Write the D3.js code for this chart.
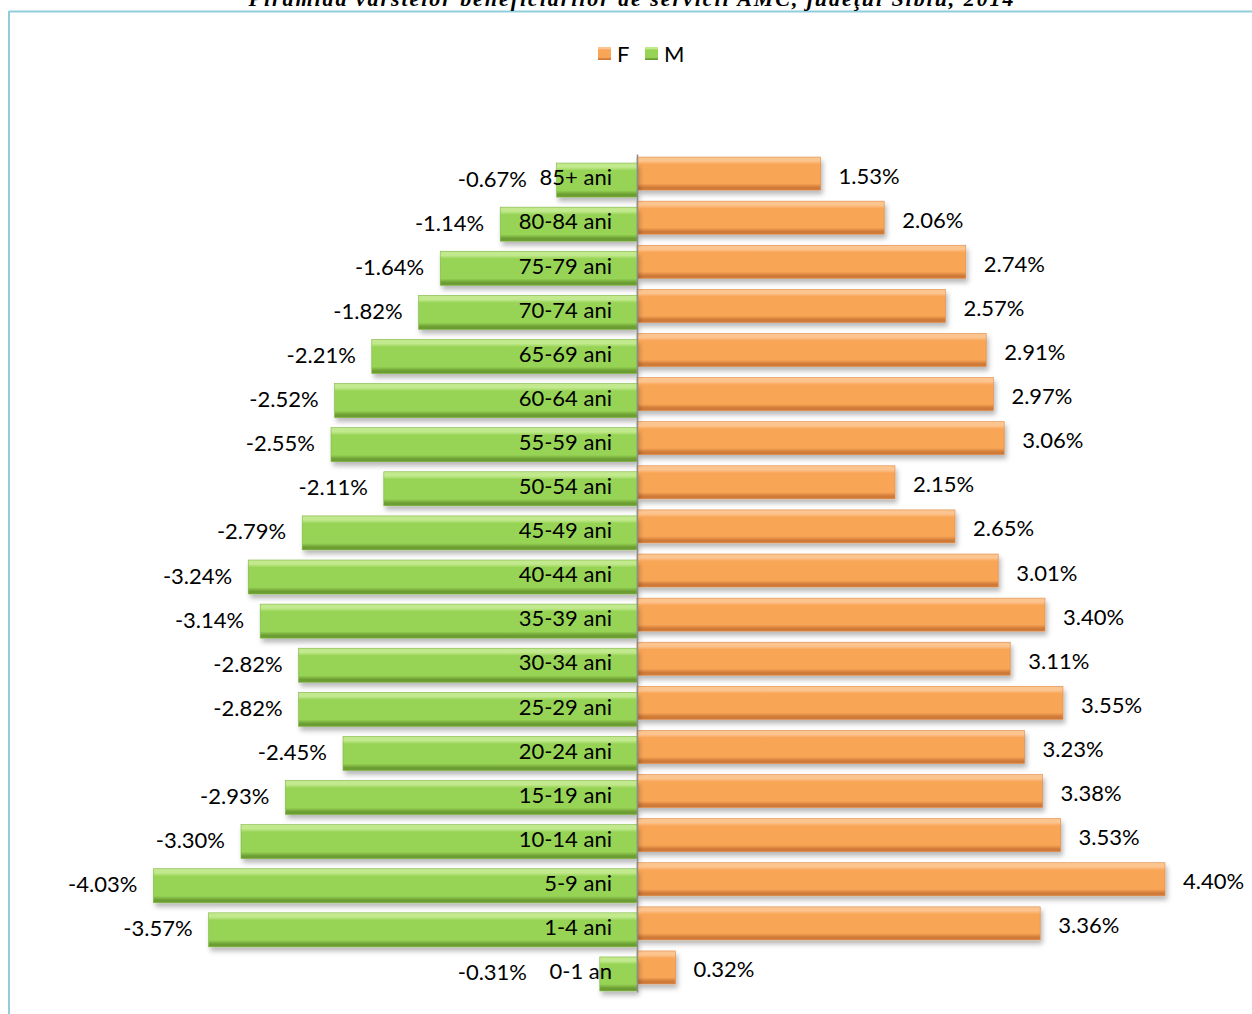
<!DOCTYPE html>
<html>
<head>
<meta charset="utf-8">
<script src="https://cdn.jsdelivr.net/npm/d3@7"></script>
<style>
  html, body { margin: 0; padding: 0; background: #fff; }
  svg { display: block; }
  text { font-family: Lato, "Open Sans", sans-serif; }
</style>
</head>
<body>
<svg id="chart" width="1252" height="1014"></svg>
<script>
const title = "Piramida vârstelor beneficiarilor de servicii AMC, judeţul Sibiu, 2014";
const categories = ["85+ ani","80-84 ani","75-79 ani","70-74 ani","65-69 ani","60-64 ani","55-59 ani","50-54 ani","45-49 ani","40-44 ani","35-39 ani","30-34 ani","25-29 ani","20-24 ani","15-19 ani","10-14 ani","5-9 ani","1-4 ani","0-1 an"];
const valuesM = [-0.67,-1.14,-1.64,-1.82,-2.21,-2.52,-2.55,-2.11,-2.79,-3.24,-3.14,-2.82,-2.82,-2.45,-2.93,-3.30,-4.03,-3.57,-0.31];
const valuesF = [1.53,2.06,2.74,2.57,2.91,2.97,3.06,2.15,2.65,3.01,3.40,3.11,3.55,3.23,3.38,3.53,4.40,3.36,0.32];
const seriesNames = ["F","M"];

const svg = d3.select("#chart");
const W = 1252, H = 1014;

const x = d3.scaleLinear().domain([-4.03, 4.40]).range([637 - 4.03*120, 637 + 4.40*120]);
const y = d3.scaleBand().domain(categories).range([154, 992]).padding(0);
const fmt = v => v.toFixed(2) + "%";

const defs = svg.append("defs");
function grad(id, light, main, dark) {
  const g = defs.append("linearGradient").attr("id", id).attr("x1",0).attr("y1",0).attr("x2",0).attr("y2",1);
  [[0, light],[0.12, light],[0.22, main],[0.8, main],[0.92, dark],[1, dark]].forEach(([o,c]) =>
    g.append("stop").attr("offset", o).attr("stop-color", c));
}
grad("gF", "#fcc48f", "#f9a557", "#cf7a37");
grad("gM", "#c2e98e", "#97d455", "#6c9d33");
const f = defs.append("filter").attr("id","sh").attr("x","-10%").attr("y","-30%").attr("width","130%").attr("height","180%");
f.append("feDropShadow").attr("dx",2).attr("dy",4).attr("stdDeviation",2.5).attr("flood-color","#000").attr("flood-opacity",0.28);

// frame
svg.append("line").attr("x1",9).attr("x2",W).attr("y1",11.5).attr("y2",11.5).attr("stroke","#92cddb").attr("stroke-width",2);
svg.append("line").attr("x1",9).attr("x2",9).attr("y1",11).attr("y2",H).attr("stroke","#92cddb").attr("stroke-width",2);

// title (cut off at top)
svg.append("text").attr("x",631).attr("y",6).attr("text-anchor","middle")
  .style("font-family","'Liberation Serif', 'Times New Roman', serif").style("font-weight","bold").style("font-style","italic")
  .style("font-size","22px").attr("textLength",765).text(title);

// legend
const leg = svg.append("g");
const legItems = [{n:"F", g:"gF", x:598},{n:"M", g:"gM", x:645}];
legItems.forEach(d => {
  leg.append("rect").attr("x",d.x).attr("y",47).attr("width",13).attr("height",13).attr("fill","url(#"+d.g+")");
  leg.append("text").attr("x",d.x+19).attr("y",53.5).attr("dominant-baseline","central").style("font-size","22px").attr("fill","#000").text(d.n);
});

const zero = x(0);
const rows = categories.map((c,i) => ({c, m: valuesM[i], f: valuesF[i]}));

const bars = svg.append("g");
// F bars
bars.selectAll("rect.f").data(rows).join("rect").attr("class","f")
  .attr("x", zero).attr("width", d => x(d.f) - zero)
  .attr("y", d => y(d.c) + y.bandwidth()/2 - 19).attr("height", 33)
  .attr("fill","url(#gF)").attr("stroke","#e08a45").attr("stroke-width",0.6).attr("filter","url(#sh)");
// M bars
bars.selectAll("rect.m").data(rows).join("rect").attr("class","m")
  .attr("x", d => x(d.m)).attr("width", d => zero - x(d.m))
  .attr("y", d => y(d.c) + y.bandwidth()/2 - 13).attr("height", 34)
  .attr("fill","url(#gM)").attr("stroke","#7fb540").attr("stroke-width",0.6).attr("filter","url(#sh)");

// value labels
svg.append("g").selectAll("text").data(rows).join("text")
  .attr("x", d => x(d.f) + 18).attr("y", d => y(d.c) + y.bandwidth()/2 - 1)
  .attr("dominant-baseline","central").style("font-size","22px").attr("fill","#000")
  .text(d => fmt(d.f));
svg.append("g").selectAll("text").data(rows).join("text")
  .attr("x", d => Math.min(x(d.m) - 16, zero - 110)).attr("y", d => y(d.c) + y.bandwidth()/2 + 2)
  .attr("text-anchor","end").attr("dominant-baseline","central").style("font-size","22px").attr("fill","#000")
  .text(d => fmt(d.m));

// category axis
const axis = svg.append("g").attr("transform", `translate(${zero},0)`)
  .call(d3.axisLeft(y).tickSize(0).tickPadding(25));
axis.select(".domain").attr("stroke","#8c8c8c").attr("stroke-width",1.5);
axis.selectAll("text").style("font-size","22px").style("font-family","Lato, 'Open Sans', sans-serif")
  .attr("fill","#000").attr("dy","0.42em");
</script>
</body>
</html>
